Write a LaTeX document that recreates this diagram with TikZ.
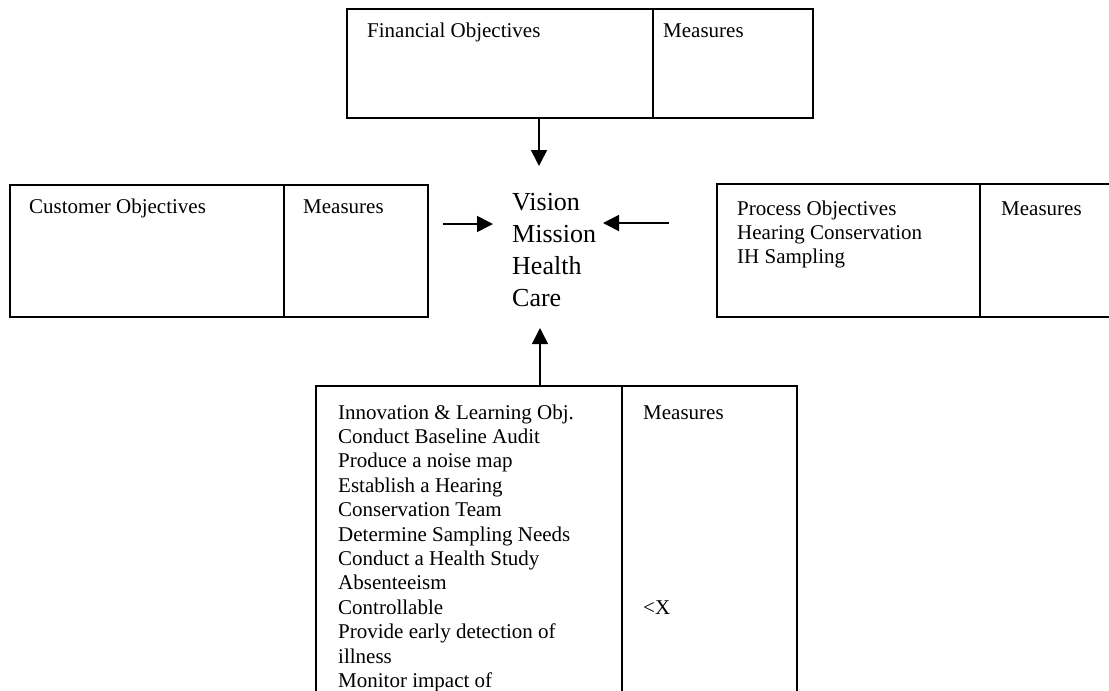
\documentclass[tikz,border=0pt]{standalone}
\usepackage{fontspec}
\setmainfont{Liberation Serif}
\usetikzlibrary{arrows.meta}
% a left-aligned stack of lines whose baseline is that of its first line
\newcommand{\linestack}[1]{\begin{tabular}[t]{@{}l@{}}#1\end{tabular}}
\begin{document}
\begin{tikzpicture}[x=1pt,y=-1pt,
  cell/.style={draw,line width=1.6pt,rectangle,inner sep=0pt,anchor=north west},
  lbl/.style={anchor=base west,inner sep=0pt,
    font=\fontsize{21}{24.4}\selectfont},
  core/.style={anchor=base west,inner sep=0pt,
    font=\fontsize{26}{32}\selectfont},
  link/.style={line width=1.6pt,-{Triangle[length=16pt,width=16pt]}}]
\clip (0,0) rectangle (1109,691);
\fill[white] (0,0) rectangle (1109,691);

% financial perspective
\node[cell,minimum width=306pt,minimum height=109pt] (finobj) at (346,8) {};
\node[cell,minimum width=160pt,minimum height=109pt] (finmea) at (652,8) {};
\node[lbl] (fintxt) at (367,37) {Financial Objectives};
\node[lbl] (finmeatxt) at (663,37) {Measures};

% customer perspective
\node[cell,minimum width=274pt,minimum height=132pt] (cusobj) at (9,184) {};
\node[cell,minimum width=144pt,minimum height=132pt] (cusmea) at (283,184) {};
\node[lbl] (custxt) at (29,213) {Customer Objectives};
\node[lbl] (cusmeatxt) at (303,213) {Measures};

% internal process perspective
\node[cell,minimum width=263pt,minimum height=133pt] (proobj) at (716,183) {};
\node[cell,minimum width=150pt,minimum height=133pt] (promea) at (979,183) {};
\node[lbl] (protxt) at (737,215) {\linestack{Process Objectives\\Hearing Conservation\\IH Sampling}};
\node[lbl] (promeatxt) at (1001,215) {Measures};

% innovation and learning perspective
\node[cell,minimum width=306pt,minimum height=330pt] (innobj) at (315,385) {};
\node[cell,minimum width=175pt,minimum height=330pt] (innmea) at (621,385) {};
\node[lbl] (inntxt) at (338,419) {\linestack{Innovation \& Learning Obj.\\Conduct Baseline Audit\\Produce a noise map\\Establish a Hearing\\Conservation Team\\Determine Sampling Needs\\Conduct a Health Study\\Absenteeism\\Controllable\\Provide early detection of\\illness\\Monitor impact of}};
\node[lbl] (innmeatxt) at (643,419) {Measures};
\node[lbl] (limit) at (643,614) {<X};

% centre
\node[core] (vision) at (512,210) {\linestack{Vision\\Mission\\Health\\Care}};

% arrows into the centre
\coordinate (topfrom) at (539,117);
\coordinate (topto) at (539,166);
\coordinate (botfrom) at (540,385);
\coordinate (botto) at (540,328);
\coordinate (lfrom) at (443,224);
\coordinate (lto) at (493,224);
\coordinate (rfrom) at (669,223);
\coordinate (rto) at (603,223);
\draw[link] (topfrom) -- (topto);
\draw[link] (botfrom) -- (botto);
\draw[link] (lfrom) -- (lto);
\draw[link] (rfrom) -- (rto);
\end{tikzpicture}
\end{document}
